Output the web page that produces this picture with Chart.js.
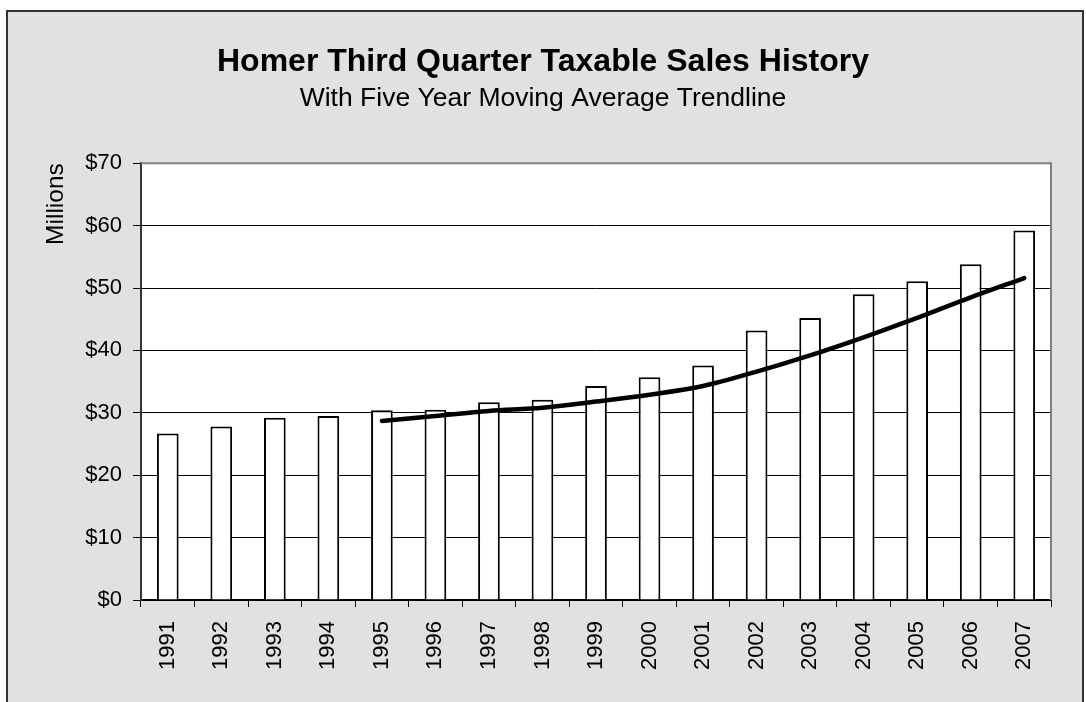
<!DOCTYPE html>
<html>
<head>
<meta charset="utf-8">
<script src="https://cdn.jsdelivr.net/npm/chart.js@4.4.0/dist/chart.umd.min.js"></script>
<style>
    body { margin: 0; background: #fff; overflow: hidden; }
    #riquadro {
        position: absolute; left: 6px; top: 10px;
        width: 1074px; height: 760px;
        background: #e1e1e1; border: 2px solid #333;
    }
    #grafico { position: absolute; left: 0; top: 0; }
</style>
</head>
<body>
<div id="riquadro"></div>
<canvas id="grafico" width="1086" height="702"></canvas>
<script>
var anni = ['1991', '1992', '1993', '1994', '1995', '1996', '1997', '1998', '1999', '2000', '2001', '2002', '2003', '2004', '2005', '2006', '2007'];
var vendite = [26.7, 27.8, 29.2, 29.5, 30.4, 30.5, 31.7, 32.1, 34.3, 35.7, 37.6, 43.2, 45.2, 49.0, 51.1, 53.8, 59.2];
var mediaMobile = [null, null, null, null, 28.7, 29.5, 30.3, 30.8, 31.8, 32.9, 34.3, 36.6, 39.2, 42.1, 45.2, 48.5, 51.6];
var tickMilioni = [0, 10, 20, 30, 40, 50, 60, 70];

var font = '"Liberation Sans", Arial, sans-serif';

// sfondo bianco e bordo grigio dell'area del grafico
var areaPlot = {
    id: 'areaPlot',
    beforeDraw: function (chart) {
        var a = chart.chartArea;
        var ctx = chart.ctx;
        ctx.save();
        ctx.fillStyle = '#fff';
        ctx.fillRect(a.left, a.top, a.right - a.left, a.bottom - a.top);
        ctx.restore();
    },
    afterDraw: function (chart) {
        var a = chart.chartArea;
        var ctx = chart.ctx;
        ctx.save();
        ctx.strokeStyle = '#808080';
        ctx.lineWidth = 2;
        ctx.beginPath();
        ctx.moveTo(a.left, a.top);
        ctx.lineTo(a.right, a.top);
        ctx.lineTo(a.right, a.bottom);
        ctx.stroke();
        ctx.restore();
    }
};

var ctx = document.getElementById('grafico');
new Chart(ctx, {
    type: 'bar',
    data: {
        labels: anni,
        datasets: [{
            type: 'line',
            label: 'Media mobile',
            data: mediaMobile,
            borderColor: '#000',
            borderWidth: 4.5,
            borderCapStyle: 'round',
            pointRadius: 0,
            cubicInterpolationMode: 'monotone',
            order: 0
        }, {
            label: 'Vendite',
            data: vendite,
            backgroundColor: '#fff',
            borderColor: '#000',
            borderWidth: 2,
            barPercentage: 0.405,
            categoryPercentage: 1,
            order: 1
        }]
    },
    options: {
        responsive: false,
        animation: false,
        devicePixelRatio: 1,
        layout: { padding: 0 },
        plugins: {
            legend: { display: false },
            tooltip: { enabled: false },
            title: {
                display: true,
                text: 'Homer Third Quarter Taxable Sales History',
                color: '#000',
                font: { family: font, size: 32, weight: 'bold' },
                padding: { top: 43, bottom: 0 }
            },
            subtitle: {
                display: true,
                text: 'With Five Year Moving Average Trendline',
                color: '#000',
                font: { family: font, size: 26.5 },
                padding: { top: 1, bottom: 49 }
            }
        },
        scales: {
            x: {
                grid: { drawOnChartArea: false, tickLength: 7, color: '#000', offset: true },
                border: { color: '#000', width: 2 },
                ticks: {
                    color: '#000',
                    font: { family: font, size: 22 },
                    minRotation: 90,
                    maxRotation: 90,
                    padding: 14
                },
                afterFit: function (scale) { scale.height = 102; }
            },
            y: {
                min: 0,
                max: 70,
                grid: { color: '#000', lineWidth: 1, tickLength: 8 },
                border: { color: '#333', width: 2 },
                ticks: {
                    color: '#000',
                    font: { family: font, size: 22 },
                    padding: 11,
                    callback: function (v) { return '$' + v; }
                },
                afterBuildTicks: function (scale) {
                    scale.ticks = tickMilioni.map(function (v) { return { value: v }; });
                },
                title: {
                    display: true,
                    text: 'Millions',
                    align: 'end',
                    color: '#000',
                    font: { family: font, size: 24.5 },
                    padding: { top: 42, bottom: 0 }
                },
                afterFit: function (scale) { scale.width = 141; }
            },
            // asse vuoto a destra solo per lasciare il margine grigio
            margine: {
                position: 'right',
                grid: { display: false },
                border: { display: false },
                ticks: { display: false },
                afterFit: function (scale) { scale.width = 35; }
            }
        }
    },
    plugins: [areaPlot]
});
</script>
</body>
</html>
